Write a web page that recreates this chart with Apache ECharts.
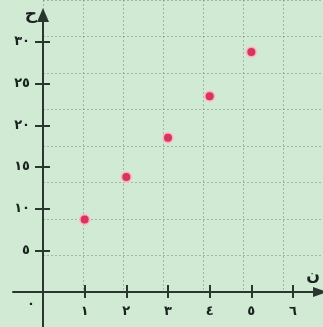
<!DOCTYPE html>
<html><head><meta charset="utf-8">
<script src="https://cdn.jsdelivr.net/npm/echarts@6/dist/echarts.min.js"></script>
<style>html,body{margin:0;padding:0;background:#d0ead4;}#c{width:323px;height:327px;}</style>
</head><body><div id="c"></div>
<script>
// data
const nValues = [1, 2, 3, 4, 5];
const hValues = [8.7, 13.8, 18.5, 23.5, 28.8];
const xTickLabels = ['٠', '١', '٢', '٣', '٤', '٥', '٦'];
const yTickLabels = ['٠', '٥', '١٠', '١٥', '٢٠', '٢٥', '٣٠'];
const xName = 'ن';
const yName = 'ح';

// layout
const X0 = 43, Y0 = 292, UX = 41.667, UY = 8.333, W = 323, H = 327;
const axisColor = '#2c3631';
const textColor = '#1a221e';
const font = 'DejaVu Sans';
const XEND = 3; // right inset of x-axis line

const chart = echarts.init(document.getElementById('c'), null, {renderer: 'canvas'});
const hidden = {axisLine: {show: false}, axisTick: {show: false}, axisLabel: {show: false}, splitLine: {show: false}};

const gridA = {left: 13, right: XEND, top: 15, bottom: 0};
const gridB = {left: X0, right: W - (X0 + 6 * UX), top: Y0 - 30 * UY, bottom: H - Y0};
const gridD = {left: X0, right: W - (X0 + 7 * UX), top: Y0 - 40 * UY, bottom: H - Y0};
const gridLine = {color: 'rgba(95,125,105,0.45)', width: 1, type: [2, 2]};

const option = {
  backgroundColor: '#d0ead4',
  animation: false,
  grid: [
    Object.assign({}, gridA),
    Object.assign({}, gridB),
    Object.assign({}, gridB),
    Object.assign({}, gridD)
  ],
  xAxis: [
    Object.assign({}, hidden, {type: 'value', gridIndex: 0, min: -(X0 - 13) / UX, max: (W - XEND - X0) / UX,
      axisLine: {show: true, onZero: true, symbol: ['none', 'triangle'], symbolSize: [10, 14], lineStyle: {color: axisColor, width: 2}},
      name: xName, nameLocation: 'end', nameGap: 0,
      nameTextStyle: {fontFamily: font, fontSize: 16, fontWeight: 'bold', color: textColor, align: 'right', verticalAlign: 'bottom', padding: [0, 0, 8, 0]}}),
    Object.assign({}, hidden, {type: 'value', gridIndex: 1, min: 0, max: 6, interval: 1,
      axisTick: {show: true, length: 6, lineStyle: {color: axisColor, width: 2}},
      axisLabel: {show: true, margin: 13, fontFamily: font, fontSize: 13, fontWeight: 'bold', color: textColor,
        formatter: v => v === 0 ? '' : xTickLabels[v]}}),
    Object.assign({}, hidden, {type: 'value', gridIndex: 2, min: 0, max: 6, interval: 1,
      axisTick: {show: true, inside: true, length: 7, lineStyle: {color: axisColor, width: 2}}}),
    Object.assign({}, hidden, {type: 'value', gridIndex: 3, min: 0, max: 7, interval: 1,
      splitLine: {show: true, lineStyle: gridLine}})
  ],
  yAxis: [
    Object.assign({}, hidden, {type: 'value', gridIndex: 0, min: -(H - Y0) / UY, max: (Y0 - 15) / UY,
      axisLine: {show: true, onZero: true, symbol: ['none', 'triangle'], symbolSize: [12, 14], lineStyle: {color: axisColor, width: 2}},
      name: yName, nameLocation: 'end', nameGap: 0,
      nameTextStyle: {fontFamily: font, fontSize: 17, fontWeight: 'bold', color: textColor, align: 'right', verticalAlign: 'middle', padding: [0, 6, 0, 0]}}),
    Object.assign({}, hidden, {type: 'value', gridIndex: 1, min: 0, max: 30, interval: 5,
      axisTick: {show: true, length: 8, lineStyle: {color: axisColor, width: 2}},
      axisLabel: {show: true, margin: 8,
        formatter: v => v === 0 ? '{z|' + yTickLabels[0] + '}' : '{n|' + yTickLabels[v / 5] + '}',
        rich: {n: {fontFamily: font, fontSize: 13, fontWeight: 'bold', color: textColor, padding: [0, 5, 0, 0]},
               z: {fontFamily: font, fontSize: 13, fontWeight: 'bold', color: textColor, padding: [26, 0, 0, 0]}}}}),
    Object.assign({}, hidden, {type: 'value', gridIndex: 2, min: 0, max: 30, interval: 5,
      axisTick: {show: true, inside: true, length: 7, lineStyle: {color: axisColor, width: 2}}}),
    Object.assign({}, hidden, {type: 'value', gridIndex: 3, min: 0, max: 40, interval: 5,
      splitLine: {show: true, lineStyle: gridLine}})
  ],
  series: [{
    type: 'scatter', xAxisIndex: 1, yAxisIndex: 1, z: 5,
    symbolSize: 10,
    itemStyle: {color: '#d4365f', borderColor: 'rgba(255,190,205,0.85)', borderWidth: 2, opacity: 1},
    data: nValues.map((n, i) => [n, hValues[i]])
  }]
};
chart.setOption(option);
</script>
</body></html>
